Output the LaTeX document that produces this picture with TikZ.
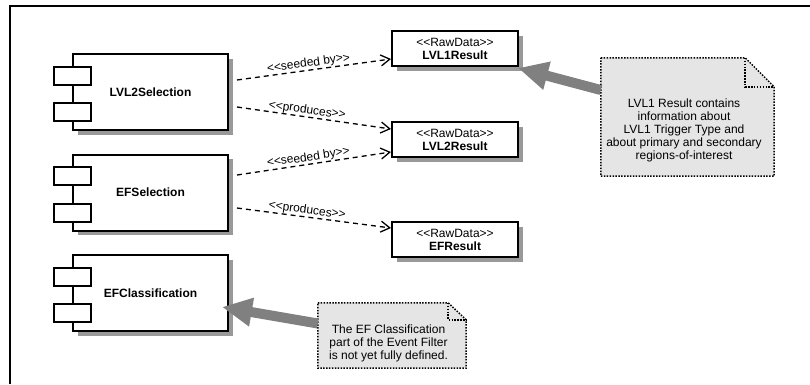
\documentclass[tikz,border=0pt]{standalone}
\usepackage{fontspec}
\setmainfont{Liberation Sans}[Ligatures=TeXOff]
\usetikzlibrary{arrows.meta,backgrounds,shadows}

\definecolor{notefill}{gray}{0.90}
\definecolor{pointergray}{gray}{0.50}

\begin{document}
\begin{tikzpicture}[x=1pt, y=-1pt,
    every node/.style={font=\fontsize{12}{13}\selectfont},
    component/.style={draw, line width=2pt, fill=white, minimum width=155pt, minimum height=76pt,
        font=\fontsize{12}{13}\selectfont\bfseries,
        drop shadow={shadow xshift=4.5pt, shadow yshift=-4.5pt, fill=black!40, opacity=1}},
    port/.style={draw, line width=2pt, fill=white, minimum width=37pt, minimum height=18pt, inner sep=0pt},
    rawdata/.style={draw, line width=2pt, fill=white, minimum width=126pt, minimum height=35pt,
        align=center, inner sep=0pt,
        drop shadow={shadow xshift=4.5pt, shadow yshift=-4.5pt, fill=black!40, opacity=1}},
    depends/.style={line width=1.3pt, dash pattern=on 5pt off 4pt, -{Straight Barb[length=9pt,width=11pt]}},
    stereo/.style={sloped, above, inner sep=0.3pt},
    notebox/.style={inner sep=0pt},
    notetext/.style={align=center, inner sep=0pt},
    noteline/.style={line width=1.5pt, dash pattern=on 1.5pt off 1.4pt},
    pointer/.style={line width=10pt, draw=pointergray, -{Triangle[length=30pt,width=27pt]}}
  ]
  \useasboundingbox (0,0) rectangle (810,384);

  % frame
  \draw[line width=1.5pt] (10,384) -- (10,6) -- (810,6);

  % components
  \node[component] (lvl2sel) at (150.5,92) {LVL2Selection};
  \node[port] (lvl2sel-p1) at ([yshift=16.5pt]lvl2sel.west) {};
  \node[port] (lvl2sel-p2) at ([yshift=-20pt]lvl2sel.west) {};

  \node[component] (efsel) at (150.5,192.5) {EFSelection};
  \node[port] (efsel-p1) at ([yshift=16.5pt]efsel.west) {};
  \node[port] (efsel-p2) at ([yshift=-20pt]efsel.west) {};

  \node[component] (efclass) at (150.5,293) {EFClassification};
  \node[port] (efclass-p1) at ([yshift=16.5pt]efclass.west) {};
  \node[port] (efclass-p2) at ([yshift=-20pt]efclass.west) {};

  % raw data
  \node[rawdata] (lvl1res) at (455,48.5) {<<RawData>>\\\textbf{LVL1Result}};
  \node[rawdata] (lvl2res) at (455,139.5) {<<RawData>>\\\textbf{LVL2Result}};
  \node[rawdata] (efres) at (455,239.5) {<<RawData>>\\\textbf{EFResult}};

  % dependencies
  \draw[depends] ([xshift=8pt,yshift=12pt]lvl2sel.east) -- node[stereo, pos=.47] {<<seeded by>>} ([yshift=-10.5pt]lvl1res.west);
  \draw[depends] ([xshift=8pt,yshift=-15pt]lvl2sel.east) -- node[stereo, pos=.45] {<<produces>>} ([yshift=10.5pt]lvl2res.west);
  \draw[depends] ([xshift=8pt,yshift=17.5pt]efsel.east) -- node[stereo, pos=.47] {<<seeded by>>} ([yshift=-12.5pt]lvl2res.west);
  \draw[depends] ([xshift=8pt,yshift=-15.5pt]efsel.east) -- node[stereo, pos=.45] {<<produces>>} ([yshift=11.5pt]efres.west);

  % notes
  \node[notebox, minimum width=173pt, minimum height=118pt] (note1) at (687.5,117) {};
  \node[notetext] (note1text) at ([xshift=-3.5pt,yshift=-13.5pt]note1.center)
    {LVL1 Result contains\\information about\\LVL1 Trigger Type and\\about primary and secondary\\regions-of-interest};
  \node[notebox, minimum width=148pt, minimum height=65pt] (note2) at (392,335.5) {};
  \node[notetext] (note2text) at ([xshift=-3.5pt,yshift=-8pt]note2.center)
    {The EF Classification\\part of the Event Filter\\is not yet fully defined.};

  \begin{pgfonlayer}{background}
    \fill[notefill] (note1.north west) -- ([xshift=-29pt]note1.north east) -- ([yshift=-29pt]note1.north east)
      -- (note1.south east) -- (note1.south west) -- cycle;
    \fill[notefill] (note2.north west) -- ([xshift=-18pt]note2.north east) -- ([yshift=-17pt]note2.north east)
      -- (note2.south east) -- (note2.south west) -- cycle;
  \end{pgfonlayer}
  \draw[noteline] (note1.north west) -- ([xshift=-29pt]note1.north east) -- ([yshift=-29pt]note1.north east)
    -- (note1.south east) -- (note1.south west) -- cycle;
  \draw[noteline] ([xshift=-29pt]note1.north east) |- ([yshift=-29pt]note1.north east);
  \draw[noteline] (note2.north west) -- ([xshift=-18pt]note2.north east) -- ([yshift=-17pt]note2.north east)
    -- (note2.south east) -- (note2.south west) -- cycle;
  \draw[noteline] ([xshift=-18pt]note2.north east) |- ([yshift=-17pt]note2.north east);

  % note pointers
  \draw[pointer] ([yshift=27pt]note1.west) -- ([xshift=-1pt,yshift=-1pt]lvl1res.south east);
  \draw[pointer] ([yshift=12pt]note2.west) -- ([xshift=-7pt,yshift=-14pt]efclass.east);
\end{tikzpicture}
\end{document}
